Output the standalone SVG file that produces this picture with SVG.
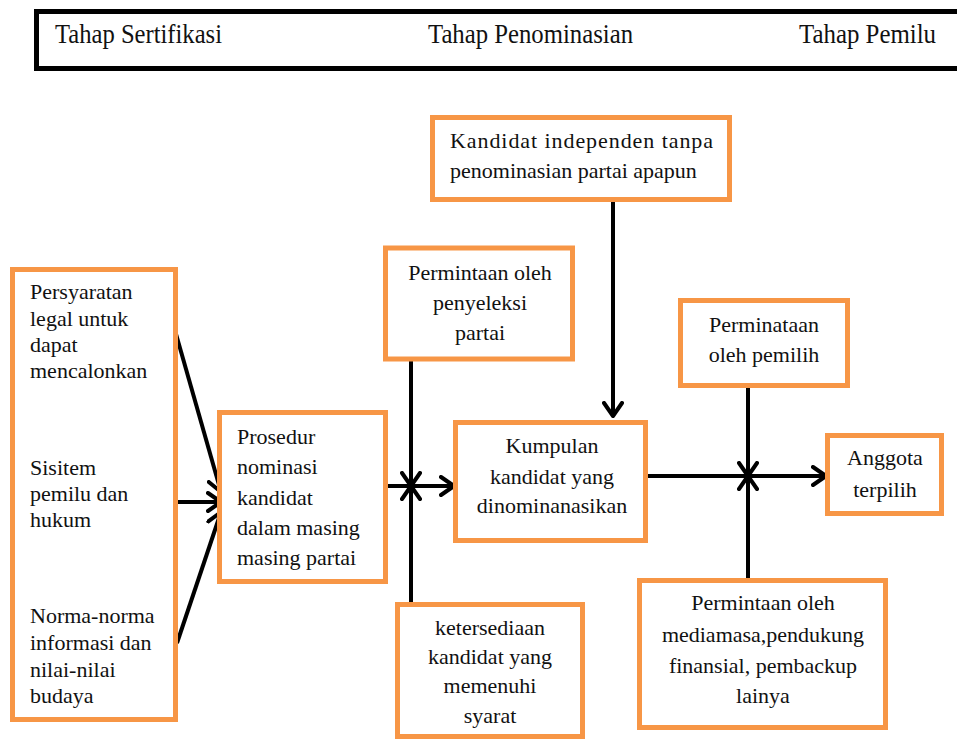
<svg xmlns="http://www.w3.org/2000/svg" width="957" height="740" viewBox="0 0 957 740">
<style>
.box{fill:#fff;stroke:#F79646;stroke-width:5}
.t{font-size:22px;fill:#111}
.c{text-anchor:middle}
.hd{font-size:27px;fill:#111}
.ln{stroke:#000;stroke-width:4;fill:none}
</style>
<defs>
<marker id="ah" markerUnits="userSpaceOnUse" markerWidth="18" markerHeight="22" viewBox="0 0 18 22" refX="15" refY="11" orient="auto">
<path d="M2,2 L15,11 L2,20" fill="none" stroke="#000" stroke-width="4" stroke-linecap="round" stroke-linejoin="round"/>
</marker>
</defs>
<rect x="0" y="0" width="957" height="740" fill="#fff"/>
<g font-family="Liberation Serif, Tinos, Times New Roman, Times, Noto Serif, FreeSerif, DejaVu Serif, serif">
<g id="header">
<rect x="36.5" y="11.5" width="940" height="57" fill="none" stroke="#000" stroke-width="5"/>
<text class="hd" x="55" y="43" textLength="167" lengthAdjust="spacingAndGlyphs">Tahap Sertifikasi</text>
<text class="hd" x="428" y="43" textLength="205" lengthAdjust="spacingAndGlyphs">Tahap Penominasian</text>
<text class="hd" x="799" y="43" textLength="137" lengthAdjust="spacingAndGlyphs">Tahap Pemilu</text>
</g>
<g id="connectors">
<line class="ln" x1="176" y1="334" x2="221" y2="492" marker-end="url(#ah)"/>
<line class="ln" x1="177" y1="502" x2="221" y2="502" marker-end="url(#ah)"/>
<line class="ln" x1="177" y1="643" x2="221" y2="512" marker-end="url(#ah)"/>
<line class="ln" x1="386" y1="486" x2="454" y2="486" marker-end="url(#ah)"/>
<line class="ln" x1="411" y1="360" x2="411" y2="486" marker-end="url(#ah)"/>
<line class="ln" x1="411" y1="603" x2="411" y2="486" marker-end="url(#ah)"/>
<line class="ln" x1="613" y1="200" x2="613" y2="416" marker-end="url(#ah)"/>
<line class="ln" x1="646" y1="476" x2="826" y2="476" marker-end="url(#ah)"/>
<line class="ln" x1="748" y1="386" x2="748" y2="476" marker-end="url(#ah)"/>
<line class="ln" x1="748" y1="580" x2="748" y2="476" marker-end="url(#ah)"/>
</g>
<g id="node-syarat">
<rect class="box" x="12.5" y="269.5" width="163" height="450"/>
<text class="t" x="30" y="299">Persyaratan</text>
<text class="t" x="30" y="326">legal untuk</text>
<text class="t" x="30" y="352">dapat</text>
<text class="t" x="30" y="378">mencalonkan</text>
<text class="t" x="30" y="475">Sisitem</text>
<text class="t" x="30" y="501">pemilu dan</text>
<text class="t" x="30" y="527">hukum</text>
<text class="t" x="30" y="623">Norma-norma</text>
<text class="t" x="30" y="650">informasi dan</text>
<text class="t" x="30" y="677">nilai-nilai</text>
<text class="t" x="30" y="703">budaya</text>
</g>
<g id="node-prosedur">
<rect class="box" x="219.5" y="412.5" width="166" height="169"/>
<text class="t" x="237" y="444">Prosedur</text>
<text class="t" x="237" y="474">nominasi</text>
<text class="t" x="237" y="505">kandidat</text>
<text class="t" x="237" y="535">dalam masing</text>
<text class="t" x="237" y="565">masing partai</text>
</g>
<g id="node-penyeleksi">
<rect class="box" x="385.5" y="248" width="187" height="111"/>
<text class="t c" x="480" y="280">Permintaan oleh</text>
<text class="t c" x="480" y="310">penyeleksi</text>
<text class="t c" x="480" y="340">partai</text>
</g>
<g id="node-independen">
<rect class="box" x="432.5" y="117.5" width="297" height="82"/>
<text class="t" x="450" y="148" textLength="263" lengthAdjust="spacing">Kandidat independen tanpa</text>
<text class="t" x="450" y="178">penominasian partai apapun</text>
</g>
<g id="node-kumpulan">
<rect class="box" x="455.5" y="422.5" width="190" height="118"/>
<text class="t c" x="552" y="453">Kumpulan</text>
<text class="t c" x="552" y="484">kandidat yang</text>
<text class="t c" x="552" y="513">dinominanasikan</text>
</g>
<g id="node-ketersediaan">
<rect class="box" x="397.5" y="604.5" width="185" height="132"/>
<text class="t c" x="490" y="635">ketersediaan</text>
<text class="t c" x="490" y="664">kandidat yang</text>
<text class="t c" x="490" y="693">memenuhi</text>
<text class="t c" x="490" y="723">syarat</text>
</g>
<g id="node-pemilih">
<rect class="box" x="680.5" y="300.5" width="167" height="85"/>
<text class="t c" x="764" y="332">Perminataan</text>
<text class="t c" x="764" y="362">oleh pemilih</text>
</g>
<g id="node-anggota">
<rect class="box" x="827.5" y="435.5" width="114" height="78"/>
<text class="t c" x="885" y="465">Anggota</text>
<text class="t c" x="885" y="497">terpilih</text>
</g>
<g id="node-mediamasa">
<rect class="box" x="639.5" y="580.5" width="246" height="147"/>
<text class="t c" x="763" y="610">Permintaan oleh</text>
<text class="t c" x="763" y="642">mediamasa,pendukung</text>
<text class="t c" x="763" y="673">finansial, pembackup</text>
<text class="t c" x="763" y="703">lainya</text>
</g>
</g>
</svg>
